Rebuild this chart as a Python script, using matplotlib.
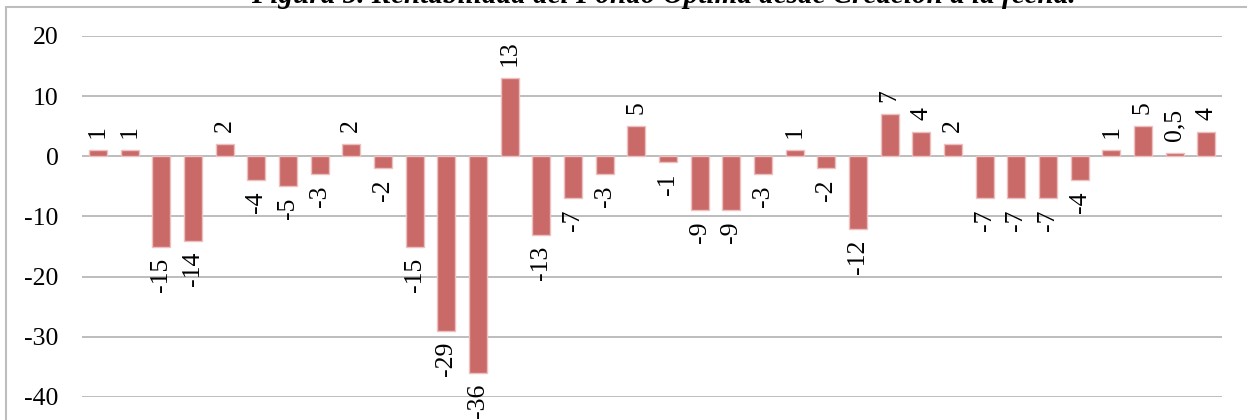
import matplotlib.pyplot as plt
import numpy as np
from matplotlib.patches import Rectangle

# Monthly returns of the fund (%)
values = [1, 1, -15, -14, 2, -4, -5, -3, 2, -2, -15, -29, -36, 13, -13, -7, -3, 5,
          -1, -9, -9, -3, 1, -2, -12, 7, 4, 2, -7, -7, -7, -4, 1, 5, 0.5, 4]
labels = ["1", "1", "-15", "-14", "2", "-4", "-5", "-3", "2", "-2", "-15", "-29", "-36",
          "13", "-13", "-7", "-3", "5", "-1", "-9", "-9", "-3", "1", "-2", "-12", "7",
          "4", "2", "-7", "-7", "-7", "-4", "1", "5", "0,5", "4"]
yticks = [-40, -30, -20, -10, 0, 10, 20]
title = "Figura 5. Rentabilidad del Fondo Óptima desde Creación a la fecha."

plt.rcParams['font.family'] = ['Liberation Serif', 'DejaVu Serif']

fig = plt.figure(figsize=(12.47, 4.2), dpi=100)
ax = fig.add_axes([0.0658, 0.0548, 0.9142, 0.8595])

x = np.arange(len(values))
ax.bar(x, values, width=0.57, color='#C96A69', edgecolor='#EDBFBE', linewidth=1.0, zorder=3)

ax.set_xlim(-0.5, len(values) - 0.5)
ax.set_ylim(-40, 20)
ax.set_yticks(yticks)
ax.set_yticklabels([str(t) for t in yticks], fontsize=18.5)
ax.set_xticks([])
ax.tick_params(axis='y', length=0, pad=17)
ax.grid(axis='y', color='#B8B8B8', linewidth=1.3, zorder=0)
for s in ax.spines.values():
    s.set_visible(False)

# value labels, rotated, above positive bars and below negative ones
for xi, v, lab in zip(x, values, labels):
    if v >= 0:
        ax.annotate(lab, (xi, v), xytext=(0, 9), textcoords='offset points',
                    rotation=90, ha='center', va='bottom', fontsize=18.5, zorder=4)
    else:
        ax.annotate(lab, (xi, v), xytext=(0, -8), textcoords='offset points',
                    rotation=90, ha='center', va='top', fontsize=18.5, zorder=4)

# chart frame (left and top edges visible)
fig.patches.append(Rectangle((6 / 1247, -0.1), 1.2, 1.1 - 7 / 420, transform=fig.transFigure,
                             fill=False, edgecolor='#BDBDBD', linewidth=1.5))

# caption above the frame
fig.text(0.532, 1.0 + 7 / 420, title, ha='center', va='center', fontsize=21,
         style='italic', fontweight='bold')

fig.savefig('out.png', dpi=100)
